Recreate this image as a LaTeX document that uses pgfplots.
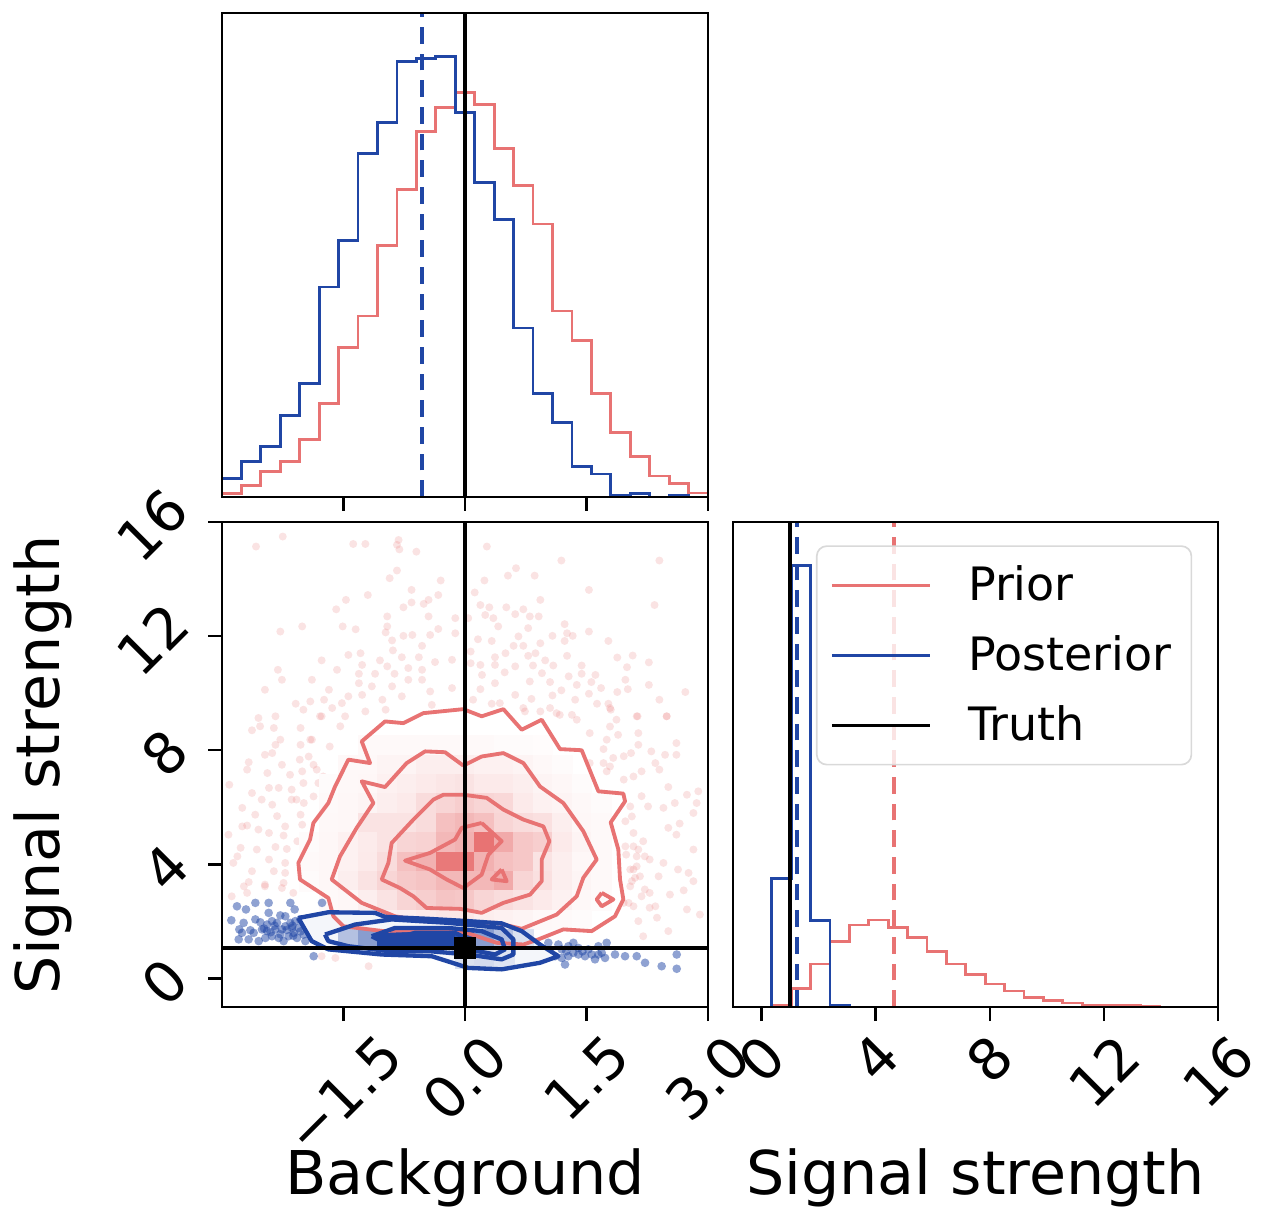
\documentclass[border=0pt]{standalone}
\usepackage{fontspec}
\setmainfont{DejaVu Sans}
\usepackage{pgfplots}
\usepackage{pgfplotstable}
\pgfplotsset{compat=1.18}

\definecolor{priorc}{RGB}{232,115,115}
\definecolor{postc}{RGB}{32,70,165}

% 1-d histograms, left bin edges
\pgfplotstableread{
x h
-3.00 18.7
-2.76 35.3
-2.52 50.3
-2.28 82.0
-2.04 113.7
-1.80 210.3
-1.56 256.7
-1.32 344.3
-1.08 375.3
-0.84 436.0
-0.60 438.7
-0.36 441.3
-0.12 385.3
0.12 314.7
0.36 278.0
0.60 169.3
0.84 103.7
1.08 74.3
1.32 30.3
1.56 23.0
1.80 1.3
2.04 3.3
2.28 0.0
2.52 1.3
2.76 0.0
3.00 0.0
}\bgpost
\pgfplotstableread{
x h
-3.00 3.3
-2.76 11.3
-2.52 25.3
-2.28 35.3
-2.04 57.7
-1.80 94.0
-1.56 149.7
-1.32 181.3
-1.08 252.0
-0.84 308.0
-0.60 366.0
-0.36 390.0
-0.12 404.7
0.12 392.7
0.36 348.7
0.60 312.0
0.84 273.3
1.08 186.3
1.32 157.0
1.56 103.7
1.80 64.7
2.04 40.3
2.28 21.0
2.52 13.3
2.76 4.0
3.00 4.0
}\bgprior
\pgfplotstableread{
x h
-1.00 0
0.36 128.0
1.04 441.3
1.72 86.7
2.40 2.0
3.08 0
16.00 0
}\sigpost
\pgfplotstableread{
x h
-1.00 0
0.36 1.3
1.04 18.7
1.72 43.0
2.40 65.3
3.08 82.0
3.76 87.0
4.44 79.3
5.12 69.3
5.80 55.3
6.48 43.0
7.16 32.7
7.84 23.0
8.52 16.0
9.20 9.7
9.88 6.7
10.56 4.0
11.24 2.0
11.92 1.3
12.60 1.3
13.28 1.0
13.96 0
16.00 0
}\sigprior

% 2-d histogram cells, centres
\pgfplotstableread{
x y v
-1.20 8.18 0.04
-0.96 8.18 0.04
-0.72 8.18 0.04
-0.48 8.18 0.04
-0.24 8.18 0.04
0 8.18 0.04
0.24 8.18 0.04
0.48 8.18 0.03
0.72 8.18 0.03
0.96 8.18 0.02
-1.44 7.50 0.05
-1.20 7.50 0.05
-0.96 7.50 0.08
-0.72 7.50 0.08
-0.48 7.50 0.12
-0.24 7.50 0.12
0 7.50 0.12
0.24 7.50 0.10
0.48 7.50 0.10
0.72 7.50 0.08
0.96 7.50 0.05
1.20 7.50 0.03
-1.68 6.82 0.03
-1.44 6.82 0.05
-1.20 6.82 0.06
-0.96 6.82 0.10
-0.72 6.82 0.12
-0.48 6.82 0.15
-0.24 6.82 0.18
0 6.82 0.20
0.24 6.82 0.15
0.48 6.82 0.15
0.72 6.82 0.12
0.96 6.82 0.08
1.20 6.82 0.06
1.44 6.82 0.03
-1.68 6.14 0.04
-1.44 6.14 0.06
-1.20 6.14 0.08
-0.96 6.14 0.12
-0.72 6.14 0.15
-0.48 6.14 0.25
-0.24 6.14 0.30
0 6.14 0.35
0.24 6.14 0.30
0.48 6.14 0.28
0.72 6.14 0.15
0.96 6.14 0.10
1.20 6.14 0.08
1.44 6.14 0.05
1.68 6.14 0.03
-1.68 5.46 0.05
-1.44 5.46 0.06
-1.20 5.46 0.20
-0.96 5.46 0.20
-0.72 5.46 0.20
-0.48 5.46 0.25
-0.24 5.46 0.45
0 5.46 0.50
0.24 5.46 0.45
0.48 5.46 0.30
0.72 5.46 0.25
0.96 5.46 0.22
1.20 5.46 0.12
1.44 5.46 0.06
1.68 5.46 0.04
-1.92 4.78 0.03
-1.68 4.78 0.06
-1.44 4.78 0.10
-1.20 4.78 0.14
-0.96 4.78 0.20
-0.72 4.78 0.30
-0.48 4.78 0.32
-0.24 4.78 0.50
0 4.78 0.55
0.24 4.78 1.0
0.48 4.78 0.60
0.72 4.78 0.40
0.96 4.78 0.35
1.20 4.78 0.15
1.44 4.78 0.08
1.68 4.78 0.04
-1.92 4.10 0.04
-1.68 4.10 0.06
-1.44 4.10 0.10
-1.20 4.10 0.15
-0.96 4.10 0.25
-0.72 4.10 0.45
-0.48 4.10 0.55
-0.24 4.10 0.95
0 4.10 0.95
0.24 4.10 0.55
0.48 4.10 0.45
0.72 4.10 0.40
0.96 4.10 0.20
1.20 4.10 0.12
1.44 4.10 0.06
1.68 4.10 0.04
-1.92 3.42 0.03
-1.68 3.42 0.06
-1.44 3.42 0.12
-1.20 3.42 0.20
-0.96 3.42 0.30
-0.72 3.42 0.38
-0.48 3.42 0.42
-0.24 3.42 0.50
0 3.42 0.50
0.24 3.42 0.50
0.48 3.42 0.60
0.72 3.42 0.30
0.96 3.42 0.22
1.20 3.42 0.12
1.44 3.42 0.07
1.68 3.42 0.04
-1.68 2.74 0.04
-1.44 2.74 0.06
-1.20 2.74 0.12
-0.96 2.74 0.20
-0.72 2.74 0.30
-0.48 2.74 0.35
-0.24 2.74 0.42
0 2.74 0.40
0.24 2.74 0.30
0.48 2.74 0.25
0.72 2.74 0.20
0.96 2.74 0.15
1.20 2.74 0.10
1.44 2.74 0.05
1.68 2.74 0.03
-1.68 2.06 0.02
-1.44 2.06 0.04
-1.20 2.06 0.06
-0.96 2.06 0.10
-0.72 2.06 0.12
-0.48 2.06 0.15
-0.24 2.06 0.18
0 2.06 0.18
0.24 2.06 0.12
0.48 2.06 0.10
0.72 2.06 0.08
0.96 2.06 0.05
1.20 2.06 0.04
1.44 2.06 0.03
}\priorcells
\pgfplotstableread{
x y v
-1.44 1.38 0.30
-1.20 1.38 0.50
-0.96 1.38 1.0
-0.72 1.38 1.0
-0.48 1.38 1.0
-0.24 1.38 1.0
0 1.38 0.90
0.24 1.38 0.50
0.48 1.38 0.30
0.72 1.38 0.12
0 0.70 0.12
0.24 0.70 0.15
0.48 0.70 0.10
}\postcells

% contours
\pgfplotstableread{
x y
-0.020 9.44
0.206 9.19
0.474 9.44
0.700 8.72
0.947 9.07
1.173 8.04
1.441 8.00
1.647 6.56
1.955 6.48
1.976 6.21
1.799 5.47
1.893 4.52
1.914 3.47
1.955 2.77
1.852 2.18
1.564 1.66
1.214 1.72
0.906 1.37
0.721 1.19
0.391 1.25
0.021 1.60
-0.514 1.72
-1.008 1.66
-1.502 1.83
-1.625 2.18
-1.687 2.82
-2.037 3.47
-2.057 4.05
-1.913 4.87
-1.872 5.45
-1.687 6.15
-1.604 6.73
-1.440 7.67
-1.172 7.55
-1.275 8.31
-0.987 9.01
-0.761 8.95
-0.514 9.30
-0.020 9.44
}\priorA
\pgfplotstableread{
x y
-0.020 7.46
0.206 7.78
0.474 7.90
0.721 7.55
0.926 6.73
1.214 6.15
1.461 5.16
1.626 4.17
1.461 3.53
1.379 2.88
1.132 2.24
0.700 1.74
0.391 1.95
-0.020 1.97
-0.514 2.01
-0.864 2.18
-1.275 2.65
-1.646 3.47
-1.543 4.28
-1.337 5.28
-1.131 6.15
-1.275 6.91
-0.987 6.71
-0.720 7.55
-0.493 7.96
-0.246 7.93
-0.020 7.46
}\priorB
\pgfplotstableread{
x y
-0.020 6.44
0.268 6.33
0.474 5.92
0.721 5.57
0.968 5.33
1.042 4.81
0.947 4.17
0.947 3.41
0.803 2.94
0.474 2.65
0.206 2.30
-0.061 2.44
-0.473 2.47
-0.637 2.88
-0.802 3.17
-1.028 3.47
-0.946 4.05
-0.905 4.75
-0.637 5.57
-0.390 6.27
-0.267 6.44
-0.020 6.44
}\priorC
\pgfplotstableread{
x y
0.206 5.45
0.453 4.81
0.289 4.34
0.206 3.64
-0.020 3.17
-0.226 3.47
-0.432 3.82
-0.740 4.13
-0.432 4.40
-0.123 4.87
-0.041 5.28
0.206 5.45
}\priorD
\pgfplotstableread{
x y
0.453 3.82
0.515 3.41
0.330 3.47
0.453 3.82
}\priorE
\pgfplotstableread{
x y
1.688 3.00
1.832 2.77
1.688 2.53
1.626 2.77
1.688 3.00
}\priorF
\pgfplotstableread{
x y
-2.057 2.12
-1.687 2.32
-1.111 2.30
-0.987 2.16
-0.452 2.09
0.042 2.01
0.453 1.93
0.700 1.66
0.926 1.19
1.153 0.78
0.926 0.55
0.453 0.32
0.042 0.37
-0.411 0.78
-1.028 0.84
-1.687 1.02
-1.893 1.31
-2.057 2.12
}\postA
\pgfplotstableread{
x y
-1.728 1.54
-1.358 1.89
-0.905 2.07
-0.205 1.95
0.453 1.77
0.597 1.37
0.597 0.84
0.453 0.67
0.042 0.84
-0.452 0.96
-0.946 0.96
-1.440 1.13
-1.687 1.31
-1.728 1.54
}\postB
\pgfplotstableread{
x y
-1.152 1.48
-0.864 1.77
-0.205 1.77
0.206 1.66
0.453 1.37
0.494 1.02
0.371 0.84
0.042 1.02
-0.452 1.13
-0.946 1.19
-1.152 1.48
}\postC
\pgfplotstableread{
x y
-0.905 1.37
-0.617 1.60
-0.123 1.60
0.042 1.37
-0.205 1.17
-0.617 1.23
-0.905 1.37
}\postD

% samples outside the lowest contour
\pgfplotstableread{
x y
-2.58 15.14
-2.25 15.49
-1.38 15.23
-1.23 15.23
-0.82 15.37
-0.84 15.20
-0.81 15.04
-0.60 14.96
-0.84 14.30
-0.93 14.03
-0.30 13.95
-0.66 13.62
-1.20 13.44
-1.47 13.27
-1.59 12.94
-0.33 13.44
-0.66 13.18
-0.76 13.01
-0.51 13.13
-0.45 13.27
-0.45 12.69
-0.96 12.69
-0.96 12.34
-2.01 12.34
-2.28 12.16
-1.51 12.34
-1.35 12.24
-0.98 12.13
-0.76 12.01
-0.65 12.04
-0.43 12.04
-0.33 12.25
-0.12 12.63
-0.12 12.10
-0.90 11.85
-0.53 11.66
-0.89 11.50
-1.44 11.34
-1.29 11.40
-1.77 11.15
-0.78 11.26
-0.57 11.26
-0.37 11.09
-1.05 11.15
-1.27 10.99
-2.31 10.82
-1.58 10.82
-1.31 10.68
-1.11 10.68
-0.87 10.68
-0.96 10.94
-0.70 10.88
-0.53 10.82
-0.16 11.17
-2.26 10.47
-1.89 10.47
-2.47 10.12
-1.68 10.12
-1.31 10.35
-1.15 10.24
-0.90 10.24
-0.70 10.47
-0.53 10.47
-0.43 10.06
-0.16 10.18
-2.09 9.63
-1.91 9.71
-1.74 9.77
-1.44 9.89
-1.52 9.65
-1.27 9.94
-1.02 9.77
-0.78 9.89
-0.41 9.59
-2.55 9.13
-2.34 9.19
-1.77 9.19
-1.64 9.48
-1.48 9.19
-1.23 9.36
-0.98 9.42
0.27 15.14
1.19 14.65
2.40 14.65
0.63 14.38
0.53 14.12
0.86 14.12
0.24 13.95
1.53 13.62
0.12 13.53
0.93 13.27
2.34 13.09
0.19 13.09
0.30 13.01
0.51 13.01
0.72 12.94
0.04 12.63
0.25 12.74
0.35 12.63
0.62 12.77
0.80 12.69
0.91 12.69
1.23 12.42
0.41 12.34
0.78 12.28
1.53 12.16
1.08 12.01
1.26 12.10
1.33 12.01
0.16 11.89
0.66 11.99
0.33 11.83
1.23 11.83
0.93 11.75
0.60 11.66
0.72 11.66
1.77 11.83
0.07 11.46
0.50 11.40
0.87 11.40
0.78 11.31
1.26 11.31
1.88 11.25
2.07 11.32
0.37 11.26
0.99 11.15
2.27 11.08
0.07 11.05
0.19 10.99
0.37 10.99
0.84 10.97
1.09 10.97
1.44 10.97
2.00 10.91
0.62 10.94
0.49 10.73
0.21 10.64
0.95 10.70
1.44 10.68
1.61 10.64
1.28 10.59
0.37 10.35
0.80 10.41
1.98 10.47
1.05 10.39
1.38 10.29
1.56 10.39
2.27 10.29
0.19 10.14
1.68 10.18
1.08 9.92
1.19 10.10
1.53 9.98
2.01 10.14
1.88 10.04
0.62 9.94
2.72 10.04
0.10 9.77
0.82 9.80
2.40 9.77
1.36 9.77
1.63 9.63
1.77 9.63
0.33 9.63
1.05 9.48
1.80 9.42
0.74 9.36
1.17 9.24
1.32 9.24
2.12 9.19
2.49 9.19
0.93 9.36
-2.53 8.84
-2.63 8.70
-2.36 8.78
-2.03 8.78
-1.89 8.37
-2.28 8.37
-2.34 8.19
-2.03 8.19
-2.47 7.84
-2.38 7.90
-2.67 7.58
-2.69 7.32
-1.93 7.78
-1.87 7.49
-2.44 7.20
-2.16 7.14
-2.01 7.26
-2.26 7.49
-2.91 6.79
-2.42 6.68
-2.30 6.68
-2.14 6.62
-1.81 6.85
-2.63 6.50
-2.51 6.27
-2.38 6.09
-1.99 6.15
-2.75 5.98
-2.59 5.74
-2.32 5.69
-2.03 5.74
-2.14 6.27
-2.75 5.33
-2.69 5.36
-2.42 5.10
-2.24 5.01
-2.01 5.39
-2.92 5.04
-2.55 5.22
-2.22 5.33
-2.77 4.58
-2.57 4.52
-2.34 4.61
-2.20 4.54
-2.07 4.81
-2.81 4.28
-2.86 4.05
-2.42 4.17
-2.22 4.05
-2.63 3.76
-2.36 3.76
-2.22 3.70
-2.67 3.38
-2.47 3.29
-2.73 3.23
-2.24 3.35
-2.47 3.23
-2.88 2.88
-2.69 3.00
-2.26 3.17
-2.12 3.00
-1.77 0.78
-1.60 0.72
-1.19 0.43
1.79 9.48
1.87 9.07
1.79 8.83
2.13 9.19
2.49 9.19
1.89 8.54
2.14 8.60
2.14 8.19
2.61 8.25
1.71 8.04
2.05 7.90
2.30 7.96
2.61 7.84
1.83 7.73
1.71 7.55
2.35 7.55
2.47 7.84
2.18 7.26
2.40 7.32
1.75 7.26
1.96 6.97
2.51 6.71
2.18 6.39
2.74 6.44
2.88 6.56
2.45 5.98
2.86 6.15
2.26 6.03
2.59 6.15
2.82 5.80
2.06 5.68
2.65 5.43
2.51 5.28
1.98 5.51
2.61 5.04
2.20 4.81
1.99 4.34
2.08 4.63
2.28 4.17
2.82 4.52
2.45 4.05
2.63 3.82
2.10 3.53
2.22 3.12
2.70 3.09
2.39 3.58
2.76 3.70
2.53 2.94
2.28 2.48
2.02 2.65
2.74 2.42
2.51 1.66
2.14 2.01
2.37 2.13
2.20 1.48
2.90 2.24
2.82 3.41
2.08 3.82
-1.995 9.42
-1.79 9.19
-1.54 8.84
-1.91 8.37
-1.67 8.13
-2.04 7.67
-1.83 7.32
-1.995 6.85
-1.75 7.08
-2.08 6.27
-1.87 6.38
0.43 9.65
0.72 9.48
1.13 9.30
1.38 9.07
1.54 8.60
1.75 8.37
1.96 7.79
1.79 7.43
2.08 7.08
1.54 7.55
2.04 6.03
2.08 5.10
2.12 4.28
2.04 3.23
2.08 2.53
1.98 4.63
2.14 4.52
2.22 4.28
2.04 3.82
2.16 3.58
2.06 3.41
2.12 3.93
2.28 3.00
2.18 2.88
2.35 2.53
1.96 2.65
}\priordots
\pgfplotstableread{
x y
-2.815 2.53
-2.704 2.42
-2.588 2.65
-2.424 2.65
-2.156 2.65
-2.103 2.42
-2.885 2.04
-2.527 1.97
-2.786 1.72
-2.650 1.69
-2.444 1.89
-2.218 1.83
-2.280 2.21
-2.424 2.30
-2.115 1.60
-2.383 1.48
-2.794 1.37
-2.671 1.37
-2.033 2.07
-2.506 1.72
-2.321 1.95
-2.053 1.77
-2.177 1.48
-1.992 1.54
-1.868 0.78
-1.765 2.65
-2.588 2.07
-2.733 1.95
-2.218 2.18
-2.465 1.42
-2.342 1.72
-2.156 1.95
-2.383 2.01
-2.259 1.72
-2.136 1.77
-2.095 2.01
-2.444 1.66
-2.609 1.60
-2.753 1.60
-2.300 1.42
-2.074 1.42
-1.971 1.31
-2.547 1.31
-2.239 1.31
-2.20 1.70
-2.35 1.85
-2.48 1.75
-2.13 1.85
-2.03 1.65
-2.28 1.55
-2.12 1.50
-2.40 1.62
1.029 1.25
1.153 1.19
1.276 1.13
1.400 1.07
1.523 1.02
1.647 0.84
1.729 0.72
1.235 0.49
1.400 0.84
1.605 0.67
1.852 0.84
1.976 0.78
2.120 0.78
2.223 0.55
2.428 0.43
2.614 0.34
2.614 0.84
1.112 0.78
1.276 0.78
1.194 1.02
1.482 0.78
1.749 1.25
1.050 0.96
1.338 1.25
1.647 1.13
1.194 0.72
1.338 0.90
1.564 0.84
1.688 0.90
1.25 0.95
1.45 0.95
}\postdots

\pgfplotsset{
  colormap={priormap}{color=(white) color=(priorc)},
  colormap={postmap}{color=(postc!5!white) color=(postc)},
  cornerax/.style={
    scale only axis,
    axis on top,
    clip mode=individual,
    anchor=south west,
    axis line style={line width=0.75pt},
    tick style={black,line width=0.75pt},
    tickwidth=4.2pt,
    tick align=outside,
    xtick pos=bottom,
    ytick pos=left,
    ticklabel style={font=\fontsize{17}{20}\selectfont},
  },
  hist/.style={const plot mark left,no marks,line width=0.85pt},
  cont/.style={no marks,line width=1.15pt,line join=round},
  truth/.style={black,line width=1.3pt,forget plot},
  medline/.style={line width=1.1pt,dash pattern=on 5pt off 3pt,forget plot},
  histcells/.style={scatter,only marks,mark=square*,mark size=2.95pt,point meta=\thisrow{v},
    scatter/use mapped color={draw=mapped color,fill=mapped color,line width=0.1pt}},
  dots/.style={only marks,mark=*,mark size=#1},
  xlab/.style={every axis x label/.style={at={(axis description cs:0.5,-0.353)},anchor=center,
    font=\fontsize{18.1}{20}\selectfont}},
}

\begin{document}
\begin{tikzpicture}
\useasboundingbox (0,0) rectangle (378.3pt,367.5pt);

% Background marginal
\begin{axis}[cornerax,at={(66.6pt,218.4pt)},width=145.8pt,height=145.2pt,
    xmin=-3,xmax=3,ymin=0,ymax=484.67,
    xtick={-1.5,0,1.5,3},xticklabels={},ytick=\empty]
  \addplot[hist,priorc] table[x=x,y=h] {\bgprior};
  \addplot[hist,postc] table[x=x,y=h] {\bgpost};
  \addplot[medline,postc] coordinates {(-0.527,0) (-0.527,484.67)};
  \addplot[truth] coordinates {(0,0) (0,484.67)};
\end{axis}

% joint
\begin{axis}[cornerax,xlab,at={(66.6pt,65.4pt)},width=145.8pt,height=145.5pt,
    xmin=-3,xmax=3,ymin=-1,ymax=16,
    point meta min=0,point meta max=1,
    xtick={-1.5,0,1.5,3},
    xticklabels={\rotatebox{45}{−1.5},\rotatebox{45}{0.0},\rotatebox{45}{1.5},\rotatebox{45}{3.0}},
    ytick={0,4,8,12,16},
    yticklabels={\rotatebox{45}{0},\rotatebox{45}{4},\rotatebox{45}{8},\rotatebox{45}{12},\rotatebox{45}{16}},
    xticklabel style={anchor=north,yshift=0.5pt},
    yticklabel style={anchor=east,xshift=-1pt,yshift=-1pt},
    xlabel={Background},ylabel={Signal strength},
    every axis y label/.style={at={(axis description cs:-0.368,0.499)},anchor=center,rotate=90,
      font=\fontsize{18.1}{20}\selectfont},
  ]
  \addplot[dots=1.2pt,priorc,mark options={draw opacity=0,fill opacity=0.2}] table[x=x,y=y] {\priordots};
  \addplot[fill=white,draw=none] table[x=x,y=y] {\priorA};
  \addplot[histcells,colormap name=priormap] table[x=x,y=y] {\priorcells};
  \addplot[dots=1.3pt,postc,mark options={draw opacity=0,fill opacity=0.5}] table[x=x,y=y] {\postdots};
  \addplot[fill=postc!5!white,draw=none] table[x=x,y=y] {\postA};
  \addplot[histcells,colormap name=postmap] table[x=x,y=y] {\postcells};
  \addplot[cont,priorc] table[x=x,y=y] {\priorA};
  \addplot[cont,priorc] table[x=x,y=y] {\priorB};
  \addplot[cont,priorc] table[x=x,y=y] {\priorC};
  \addplot[cont,priorc] table[x=x,y=y] {\priorD};
  \addplot[cont,priorc] table[x=x,y=y] {\priorE};
  \addplot[cont,priorc] table[x=x,y=y] {\priorF};
  \addplot[cont,postc,line width=1.3pt] table[x=x,y=y] {\postA};
  \addplot[cont,postc,line width=1.3pt] table[x=x,y=y] {\postB};
  \addplot[cont,postc,line width=1.3pt] table[x=x,y=y] {\postC};
  \addplot[cont,postc,line width=1.3pt] table[x=x,y=y] {\postD};
  \addplot[truth] coordinates {(0,-1) (0,16)};
  \addplot[truth] coordinates {(-3,1.07) (3,1.07)};
  \addplot[only marks,mark=square*,mark size=3.1pt,black] coordinates {(0,1.07)};
\end{axis}

% Signal marginal
\begin{axis}[cornerax,xlab,at={(219.9pt,65.4pt)},width=145.5pt,height=145.5pt,
    xmin=-1,xmax=16,ymin=0,ymax=484.67,
    xtick={0,4,8,12,16},
    xticklabels={\rotatebox{45}{0},\rotatebox{45}{4},\rotatebox{45}{8},\rotatebox{45}{12},\rotatebox{45}{16}},
    xticklabel style={anchor=north,yshift=0.5pt},
    ytick=\empty,
    xlabel={Signal strength},
    legend cell align=left,
    legend image code/.code={\draw[#1,line width=1pt] (0pt,0pt) -- (29.4pt,0pt);},
    legend style={at={(0.171,0.952)},anchor=north west,
      font=\fontsize{13.8}{16}\selectfont,
      fill=white,fill opacity=0.8,text opacity=1,
      draw=black!15,line width=0.5pt,rounded corners=3pt,
      inner xsep=4pt,inner ysep=3.8pt,
      row sep=5pt,
      /tikz/every odd column/.append style={column sep=9pt}},
  ]
  \addplot[hist,priorc,forget plot] table[x=x,y=h] {\sigprior};
  \addplot[hist,postc,forget plot] table[x=x,y=h] {\sigpost};
  \addplot[medline,priorc] coordinates {(4.64,0) (4.64,484.67)};
  \addplot[medline,postc] coordinates {(1.24,0) (1.24,484.67)};
  \addplot[truth] coordinates {(0.99,0) (0.99,484.67)};
  \addlegendimage{priorc}\addlegendentry{Prior}
  \addlegendimage{postc}\addlegendentry{Posterior}
  \addlegendimage{black}\addlegendentry{Truth}
\end{axis}
\end{tikzpicture}
\end{document}
